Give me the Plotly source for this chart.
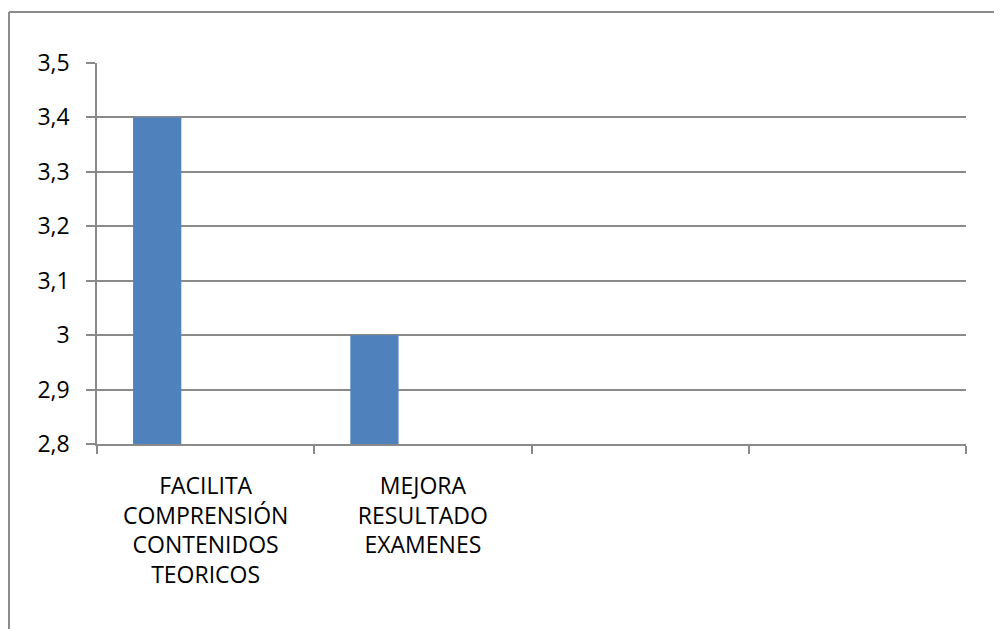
import plotly.graph_objects as go

categories = ["FACILITA<br>COMPRENSIÓN<br>CONTENIDOS<br>TEORICOS",
              "MEJORA<br>RESULTADO<br>EXAMENES", " ", "  "]
values = [3.4, 3.0, None, None]
y_ticks = [2.8, 2.9, 3.0, 3.1, 3.2, 3.3, 3.4, 3.5]

FONT = "Open Sans"
GRID = "#8a8a8a"
W, H = 994, 621
L, T, R, B = 89, 55, 36, 185
PW, PH = W - L - R, H - T - B

fig = go.Figure()
fig.add_trace(go.Bar(x=categories, y=values, marker=dict(color="#4F81BD", line=dict(width=0)),
                     width=0.222, offset=-0.334, showlegend=False))

fig.update_layout(
    width=W, height=H,
    margin=dict(l=L, r=R, t=T, b=B),
    paper_bgcolor="white", plot_bgcolor="white",
    separators=", ",
    font=dict(family=FONT, size=23, color="black"),
    xaxis=dict(type="category", categoryorder="array", categoryarray=categories,
               tickson="boundaries", ticks="outside", ticklen=8, tickwidth=1.5, tickcolor=GRID,
               showline=True, linecolor=GRID, linewidth=2, showgrid=False,
               ticklabelstandoff=20, tickfont=dict(size=23, family=FONT)),
    yaxis=dict(range=[2.8, 3.5], tickvals=y_ticks, ticks="outside", ticklen=9, tickwidth=1.5,
               tickcolor=GRID, showline=True, linecolor=GRID, linewidth=1.5,
               showgrid=True, gridcolor=GRID, gridwidth=1.5, zeroline=False,
               ticklabelstandoff=12, tickfont=dict(size=23, family=FONT)),
    shapes=[
        dict(type="line", xref="paper", yref="paper",
             x0=(1 - L) / PW, x1=(1 - L) / PW, y0=(T + PH - 4) / PH, y1=-B / PH - 0.05,
             line=dict(color="#8c8c8c", width=2)),
        dict(type="line", xref="paper", yref="paper",
             x0=(1 - L) / PW, x1=(W + 10 - L) / PW, y0=(T + PH - 4) / PH, y1=(T + PH - 4) / PH,
             line=dict(color="#8c8c8c", width=2)),
    ],
)

fig.write_html("out.html")
